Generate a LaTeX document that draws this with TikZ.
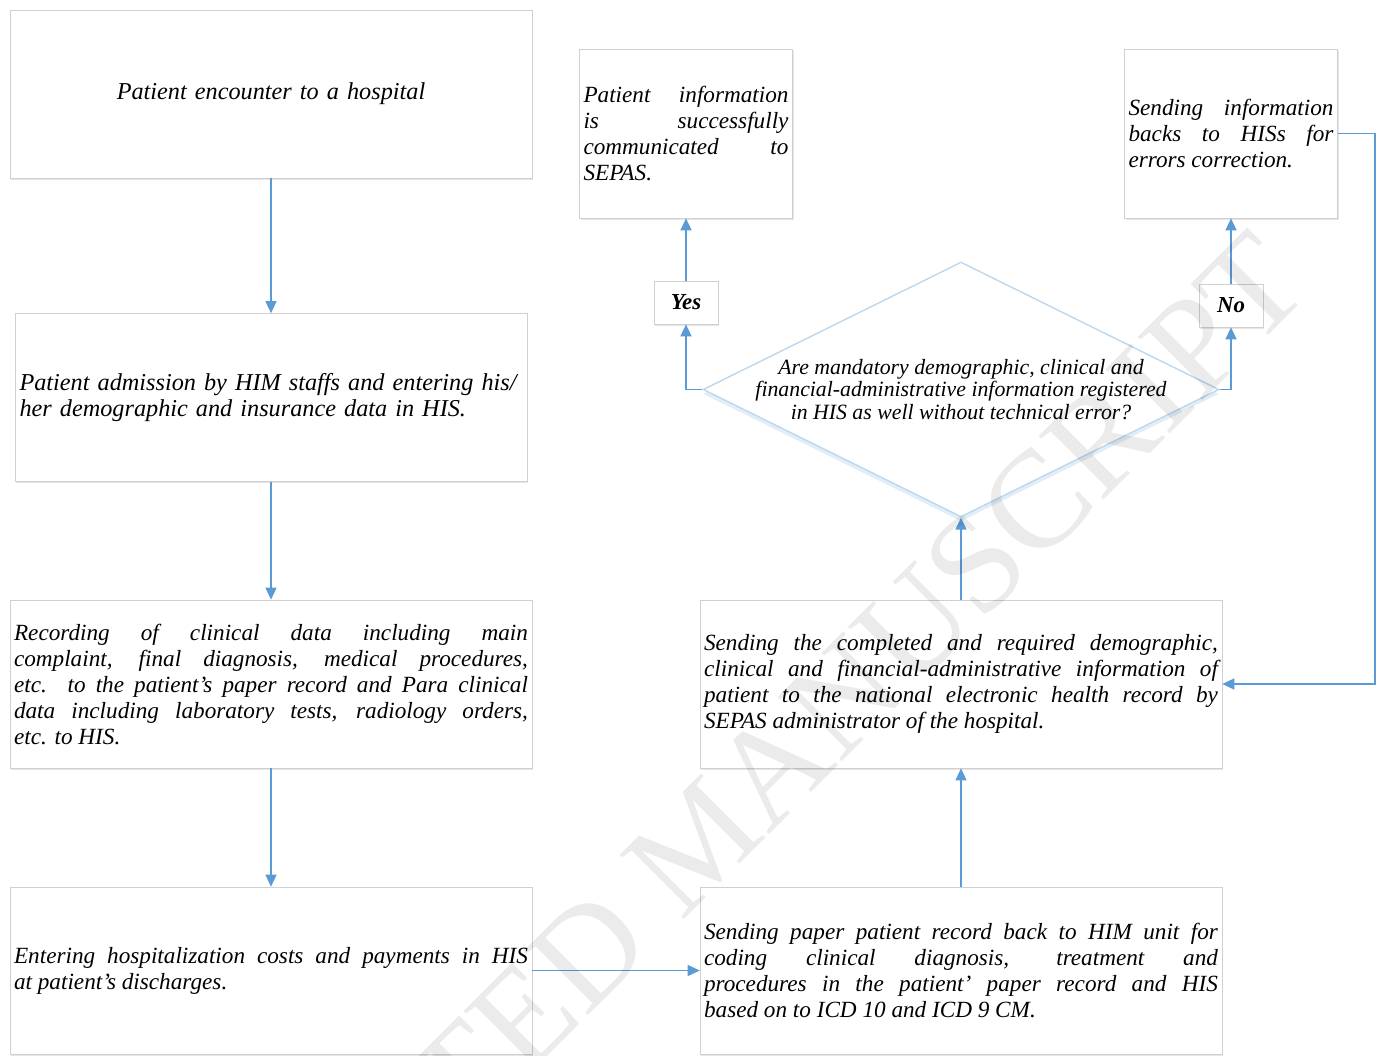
\documentclass[tikz,border=0pt]{standalone}
\usepackage{fontspec}
\setmainfont{Liberation Serif}
\usetikzlibrary{shapes.geometric,arrows.meta,shadows}
\definecolor{arrowblue}{RGB}{91,155,213}
\definecolor{boxgray}{RGB}{208,208,208}
\definecolor{diamondblue}{RGB}{189,215,238}

\begin{document}
\begin{tikzpicture}[x=0.02cm, y=-0.02cm,
        box/.style={draw=boxgray, fill=white, align=justify, inner sep=0pt,
            minimum width=10.44cm, minimum height=3.36cm, text width=10.28cm,
            font=\fontsize{13.2}{14.8}\selectfont\itshape,
            drop shadow={shadow xshift=0.6pt, shadow yshift=-1pt, opacity=0.2, fill=gray}},
        sidebox/.style={box, minimum width=4.26cm, minimum height=3.38cm, text width=4.1cm},
        answer/.style={draw=boxgray, fill=white, inner sep=0pt,
            minimum width=1.28cm, minimum height=0.86cm,
            font=\fontsize{13}{15}\selectfont\bfseries\itshape,
            drop shadow={shadow xshift=0.6pt, shadow yshift=-1pt, opacity=0.2, fill=gray}},
        decision/.style={diamond, draw=diamondblue, fill=white, line width=0.8pt, inner sep=0pt,
            minimum width=10.32cm, minimum height=5.1cm,
            drop shadow={shadow xshift=0pt, shadow yshift=-2.5pt, opacity=0.45, fill=diamondblue}},
        arrow/.style={-{Triangle[length=2.4mm,width=2.2mm]}, draw=arrowblue, line width=0.8pt},
        watermark/.style={anchor=base east, rotate=45, inner sep=0pt, text=black!8,
            font=\fontsize{79}{79}\selectfont}
    ]
    \useasboundingbox (0,0) rectangle (1379,1055);
    \clip (0,0) rectangle (1379,1055);
    % Nodes
    \node[box, align=center, font=\fontsize{13.8}{14.8}\selectfont\itshape] (encounter) at (271,94)
        {Patient encounter to a hospital};
    \node[box, align=left, minimum width=10.24cm, text width=10.06cm,
        font=\fontsize{13.8}{14.8}\selectfont\itshape] (admission) at (271,397.5)
        {Patient admission by HIM staffs and entering his/\\her demographic and insurance data in HIS.};
    \node[box] (recording) at (271,684) {Recording of clinical data including main\linebreak
        complaint, final diagnosis, medical procedures,\linebreak
        etc. to the patient's paper record and Para clinical\linebreak
        data including laboratory tests, radiology orders,\linebreak
        etc. to HIS.};
    \node[box, minimum height=3.34cm] (costs) at (271,970.5) {Entering hospitalization costs and payments in HIS\linebreak
        at patient's discharges.};
    \node[box, minimum height=3.34cm] (paperRecord) at (961,970.5) {Sending paper patient record back to HIM unit for\linebreak
        coding clinical diagnosis, treatment and\linebreak
        procedures in the patient' paper record and HIS\linebreak
        based on to ICD 10 and ICD 9 CM.};
    \node[box] (sendSepas) at (961,684) {Sending the completed and required demographic,\linebreak
        clinical and financial-administrative information of\linebreak
        patient to the national electronic health record by\linebreak
        SEPAS administrator of the hospital.};
    \node[decision] (check) at (961,389.5) {};
    \node[align=center, font=\fontsize{12.4}{12.6}\selectfont\itshape] (question) at (check)
        {Are mandatory demographic, clinical and\\
        financial-administrative information registered\\
        in HIS as well without technical error?};
    \node[answer] (yes) at (686,302.5) {Yes};
    \node[answer] (no) at (1231,305.5) {No};
    \node[sidebox] (success) at (686,133.5) {Patient information\linebreak
        is successfully\linebreak
        communicated to\linebreak
        SEPAS.};
    \node[sidebox] (errors) at (1231,133.5) {Sending information\linebreak
        backs to HISs for\linebreak
        errors correction.};
    % Arrows
    \draw[arrow] (encounter) -- (admission);
    \draw[arrow] (admission) -- (recording);
    \draw[arrow] (recording) -- (costs);
    \draw[arrow] (costs) -- (paperRecord);
    \draw[arrow] (paperRecord) -- (sendSepas);
    \draw[arrow] (sendSepas) -- (check);
    \draw[arrow] (check.west) -| (yes);
    \draw[arrow] (yes) -- (success);
    \draw[arrow] (check.east) -| (no);
    \draw[arrow] (no) -- (errors);
    \draw[arrow] (errors.east) -- ++(37,0) |- (sendSepas.east);
    % Watermark
    \begin{scope}[blend mode=multiply]
        \node[watermark] (stamp) at (1314,290) {ACCEPTED MANUSCRIPT};
    \end{scope}
\end{tikzpicture}
\end{document}
